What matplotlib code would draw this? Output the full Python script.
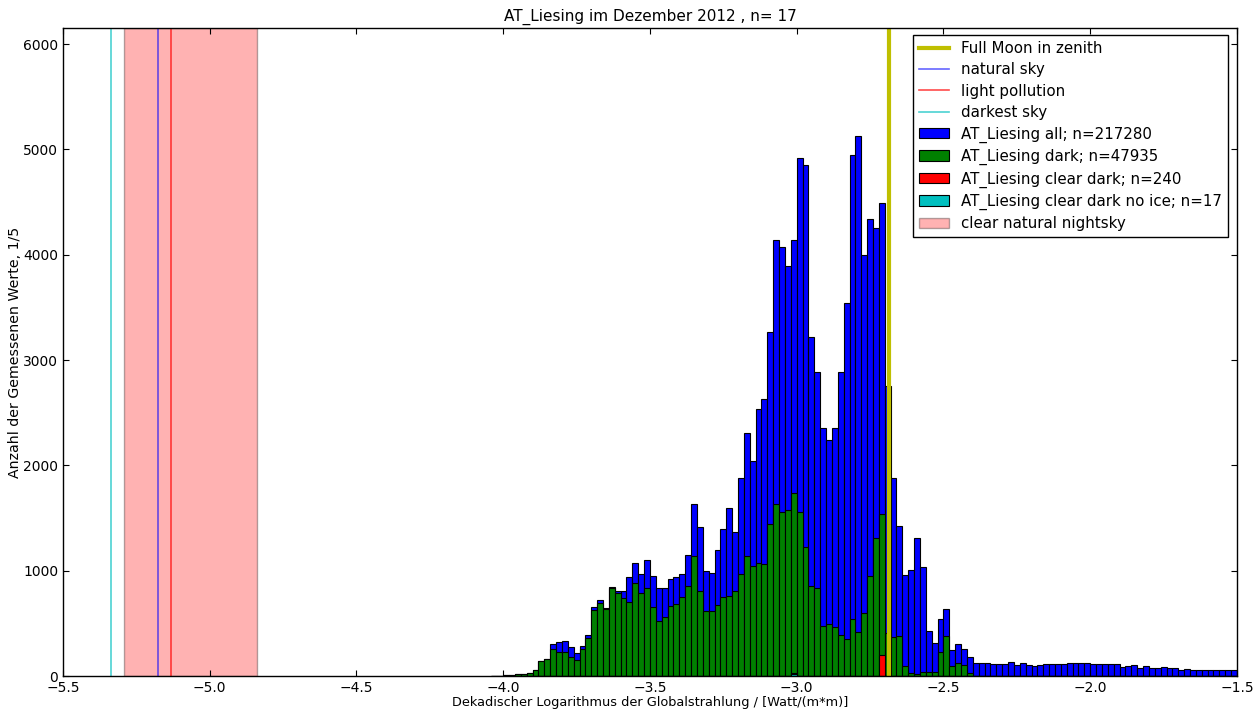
import numpy as np
import matplotlib
matplotlib.use("Agg")
import matplotlib.pyplot as plt

# ---- data (histogram counts per 0.02-wide bin, first bin starts at -4.04) ----
bin_start = -4.04
bin_width = 0.02

all_counts = [
    3, 5, 8, 10, 15, 20, 30, 60, 140, 165,
    300, 320, 335, 272, 215, 288, 389, 655, 719, 643,
    842, 810, 804, 937, 1076, 966, 1105, 950, 833, 833,
    921, 943, 966, 1149, 1630, 1412, 1000, 981, 1197, 1396,
    1599, 1367, 1878, 2312, 2039, 2534, 2634, 3265, 4142, 4070,
    3893, 4142, 4918, 4854, 3217, 2883, 2353, 2240, 2353, 2883,
    3539, 4947, 5128, 4002, 4335, 4255, 4492, 2755, 1880, 1428,
    959, 1007, 1314, 1038, 427, 316, 541, 636, 247, 301,
    260, 184, 127, 128, 128, 115, 115, 115, 135, 108,
    122, 103, 93, 103, 112, 112, 112, 112, 125, 125,
    128, 125, 112, 112, 112, 112, 112, 90, 98, 103,
    78, 93, 78, 78, 84, 81, 74, 56, 68, 56,
    62, 56, 56, 62, 56, 56, 56,
]

dark_counts = [
    3, 5, 8, 10, 15, 20, 30, 57, 142, 165,
    253, 231, 225, 184, 155, 253, 364, 624, 690, 636,
    833, 791, 744, 706, 880, 791, 833, 658, 522, 563,
    665, 681, 747, 858, 1143, 807, 614, 614, 677, 753,
    763, 804, 965, 1138, 1046, 1074, 1066, 1448, 1637, 1556,
    1576, 1737, 1556, 1227, 853, 832, 471, 491, 462, 390,
    350, 543, 422, 603, 953, 1307, 1536, 410, 374, 380,
    95, 25, 20, 35, 40, 40, 225, 383, 98, 127,
    104, 30, 5, 0, 0, 0, 0, 0, 0, 0,
    0, 0, 0, 0, 0, 0, 0, 0, 0, 0,
    0, 0, 0, 0, 0, 0, 0, 0, 0, 0,
    0, 0, 0, 0, 0, 0, 0, 0, 0, 0,
    0, 0, 0, 0, 0, 0, 0,
]

clear_dark_counts = [0] * len(all_counts)
clear_dark_counts[51] = 25
clear_dark_counts[66] = 200

clear_noice_counts = [0] * len(all_counts)
clear_noice_counts[51] = 17

full_moon_x = -2.685
natural_sky_x = -5.175
light_pollution_x = -5.131
darkest_sky_x = -5.338
nightsky_range = (-5.293, -4.840)

title = "AT_Liesing im Dezember 2012 , n= 17"
xlabel = "Dekadischer Logarithmus der Globalstrahlung / [Watt/(m*m)]"
ylabel = "Anzahl der Gemessenen Werte, 1/5"
labels_hist = [
    "AT_Liesing all; n=217280",
    "AT_Liesing dark; n=47935",
    "AT_Liesing clear dark; n=240",
    "AT_Liesing clear dark no ice; n=17",
]

# ---- plotting ----
plt.rcParams['font.family'] = ['DejaVu Sans']
fig = plt.figure(figsize=(12.6, 7.09), dpi=100)
ax = fig.add_axes([0.05, 0.0465, 0.9317, 0.914])

n_bins = len(all_counts)
edges = bin_start + bin_width * np.arange(n_bins + 1)
centers = edges[:-1] + bin_width / 2

ax.axvline(full_moon_x, color=(0.75, 0.75, 0), lw=3, label="Full Moon in zenith")
ax.axvline(natural_sky_x, color='b', alpha=0.6, lw=1.2, label="natural sky")
ax.axvline(light_pollution_x, color='r', alpha=0.7, lw=1.2, label="light pollution")
ax.axvline(darkest_sky_x, color='c', alpha=0.7, lw=1.2, label="darkest sky")

hist_colors = ['#0000ff', '#008000', '#ff0000', '#00bfbf']
for counts, col, lab in zip([all_counts, dark_counts, clear_dark_counts, clear_noice_counts],
                            hist_colors, labels_hist):
    ax.hist(centers, bins=edges, weights=counts, color=col, edgecolor='black',
            linewidth=0.8, label=lab)

ax.axvspan(nightsky_range[0], nightsky_range[1], facecolor='r', edgecolor='k',
           alpha=0.3, lw=1, label="clear natural nightsky")

ax.set_xlim(-5.5, -1.5)
ax.set_ylim(0, 6153)
ax.set_xticks(np.arange(-5.5, -1.49, 0.5))
ax.set_yticks(np.arange(0, 6001, 1000))
ax.tick_params(direction='in', top=True, right=True, labelsize=10, length=4)
for s in ax.spines.values():
    s.set_linewidth(1.0)

ax.set_title(title, fontsize=11, pad=5)
ax.set_xlabel(xlabel, fontsize=9.3, labelpad=1)
ax.set_ylabel(ylabel, fontsize=10.2, labelpad=1)

leg = ax.legend(loc='upper right', fontsize=10.8, fancybox=False, framealpha=1,
                edgecolor='black', handlelength=2.0, borderpad=0.4,
                labelspacing=0.42, borderaxespad=0,
                bbox_to_anchor=(0.9923, 0.989))
leg.get_frame().set_linewidth(1.0)

fig.savefig("out.png", dpi=100)
